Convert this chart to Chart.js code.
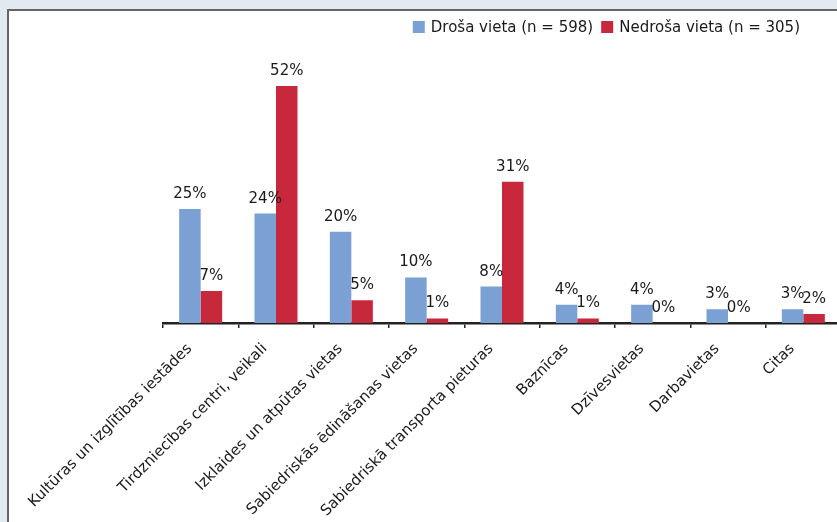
<!DOCTYPE html>
<html>
<head>
<meta charset="utf-8">
<script src="https://cdn.jsdelivr.net/npm/chart.js@4/dist/chart.umd.min.js"></script>
<style>
  html, body { margin: 0; padding: 0; width: 837px; height: 522px; overflow: hidden; background: #e3e9f1; }
  #panel { position: absolute; left: 7px; top: 9px; width: 900px; height: 600px; background: #fff;
           border-top: 2px solid #666; border-left: 2px solid #666; }
  #wrap { position: absolute; left: 0; top: 0; width: 860px; height: 522px; }
</style>
</head>
<body>
<div id="panel"></div>
<div id="wrap"><canvas id="places" width="860" height="522"></canvas></div>
<script>
(function(Chart){

    // vietas un atbilžu procenti
    var categories = [
        'Kultūras un izglītības iestādes',
        'Tirdzniecības centri, veikali',
        'Izklaides un atpūtas vietas',
        'Sabiedriskās ēdināšanas vietas',
        'Sabiedriskā transporta pieturas',
        'Baznīcas',
        'Dzīvesvietas',
        'Darbavietas',
        'Citas'
    ];
    var safeValues   = [25, 24, 20, 10, 8, 4, 4, 3, 3];
    var unsafeValues = [7, 52, 5, 1, 31, 1, 0, 0, 2];
    var seriesLabels = ['Droša vieta (n = 598)', 'Nedroša vieta (n = 305)'];

    var BLUE = '#7ba0d4';
    var RED = '#c8283c';
    var TEXT = '#1a1a1a';

    Chart.defaults.font.family = '"DejaVu Sans", Verdana, sans-serif';
    Chart.defaults.font.size = 15;
    Chart.defaults.color = TEXT;

    // procentu uzraksti virs stabiņiem
    var valueLabels = {
        id: 'valueLabels',
        afterDatasetsDraw: function(chart) {
            var ctx = chart.ctx;
            ctx.save();
            ctx.font = '15px "DejaVu Sans", Verdana, sans-serif';
            ctx.fillStyle = TEXT;
            ctx.textAlign = 'center';
            ctx.textBaseline = 'alphabetic';
            chart.data.datasets.forEach(function(ds, i) {
                chart.getDatasetMeta(i).data.forEach(function(bar, j) {
                    ctx.fillText(ds.data[j] + '%', bar.x, bar.y - 11);
                });
            });
            ctx.restore();
        }
    };

    // leģenda augšējā labajā stūrī
    var topLegend = {
        id: 'topLegend',
        afterDraw: function(chart) {
            var ctx = chart.ctx;
            var box = 12, gapText = 6, gapItem = 8, right = 800, y = 21;
            ctx.save();
            ctx.font = '15px "DejaVu Sans", Verdana, sans-serif';
            var total = 0;
            chart.data.datasets.forEach(function(ds, i) {
                total += box + gapText + ctx.measureText(ds.label).width;
                if (i > 0) total += gapItem;
            });
            var x = right - total;
            ctx.textBaseline = 'middle';
            ctx.textAlign = 'left';
            chart.data.datasets.forEach(function(ds) {
                ctx.fillStyle = ds.backgroundColor;
                ctx.fillRect(x, y, box, box);
                x += box + gapText;
                ctx.fillStyle = TEXT;
                ctx.fillText(ds.label, x, y + box / 2 + 1);
                x += ctx.measureText(ds.label).width + gapItem;
            });
            ctx.restore();
        }
    };

    var ctx = document.getElementById('places').getContext('2d');

    var chart = new Chart(ctx, {
        type: 'bar',
        data: {
            labels: categories,
            datasets: [{
                label: seriesLabels[0],
                data: safeValues,
                backgroundColor: BLUE,
                borderWidth: 0
            },
            {
                label: seriesLabels[1],
                data: unsafeValues,
                backgroundColor: RED,
                borderWidth: 0
            }]
        },
        options: {
            responsive: false,
            animation: false,
            events: [],
            categoryPercentage: 0.571,
            barPercentage: 1,
            layout: {
                autoPadding: false,
                padding: { left: 163, right: 19, top: 49.5, bottom: 0 }
            },
            plugins: {
                legend: { display: false },
                tooltip: { enabled: false }
            },
            scales: {
                x: {
                    grid: {
                        offset: true,
                        drawOnChartArea: false,
                        drawTicks: true,
                        tickLength: 5,
                        color: '#222',
                        lineWidth: 1.5
                    },
                    border: { display: true, color: '#222', width: 2.5 },
                    ticks: {
                        autoSkip: false,
                        minRotation: 45,
                        maxRotation: 45,
                        padding: 12,
                        labelOffset: -11,
                        color: TEXT,
                        font: { size: 15 }
                    },
                    afterFit: function(scale) {
                        scale.height = 199;
                    }
                },
                y: {
                    display: false,
                    min: 0,
                    max: 60
                }
            }
        },
        plugins: [valueLabels, topLegend]
    });

})(Chart);
</script>
</body>
</html>
